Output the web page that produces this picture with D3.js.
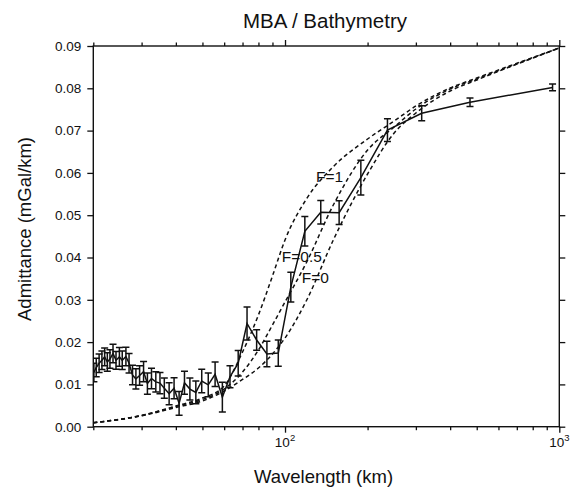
<!DOCTYPE html>
<html>
<head>
<meta charset="utf-8">
<script src="https://cdn.jsdelivr.net/npm/d3@7"></script>
<style>
  html, body { margin: 0; padding: 0; background: #fff; }
  svg { display: block; font-family: "Liberation Sans", Arial, Helvetica, sans-serif; }
</style>
</head>
<body>
<svg id="chart" width="581" height="487"></svg>
<script>
// ---- Data ----
const wavelength = [945, 472.5, 315, 236.3, 189, 157.5, 135, 118.1, 105, 94.5,
  85.9, 78.8, 72.7, 67.5, 63, 59.1, 55.6, 52.5, 49.7, 47.3,
  45, 43, 41.1, 39.4, 37.8, 36.3, 35, 33.8, 32.6, 31.5,
  30.5, 29.5, 28.6, 27.8, 27, 26.3, 25.5, 24.9, 24.2, 23.6,
  23, 22.5, 22, 21.5, 21, 20.5, 20.1];
const admittance = [0.0802, 0.0767, 0.0741, 0.0701, 0.0589, 0.0506, 0.0507, 0.0462, 0.0330, 0.0174,
  0.0172, 0.0205, 0.0244, 0.0150, 0.0118, 0.0070, 0.0124, 0.0099, 0.0108, 0.0081,
  0.0089, 0.0104, 0.0055, 0.0091, 0.0078, 0.0091, 0.0103, 0.0106, 0.0114, 0.0102,
  0.0130, 0.0121, 0.0113, 0.0122, 0.0150, 0.0166, 0.0157, 0.0165, 0.0157, 0.0173,
  0.0160, 0.0153, 0.0165, 0.0157, 0.0150, 0.0140, 0.0128];
const errorBar = [0.0008, 0.0010, 0.0018, 0.0027, 0.0041, 0.0028, 0.0028, 0.0035, 0.0035, 0.0031,
  0.0030, 0.0024, 0.0039, 0.0030, 0.0026, 0.0035, 0.0029, 0.0028, 0.0028, 0.0027,
  0.0026, 0.0027, 0.0028, 0.0025, 0.0026, 0.0024, 0.0025, 0.0024, 0.0024, 0.0025,
  0.0024, 0.0023, 0.0024, 0.0023, 0.0023, 0.0022, 0.0022, 0.0022, 0.0021, 0.0022,
  0.0022, 0.0022, 0.0021, 0.0022, 0.0022, 0.0022, 0.0022];

const modelWavelength = [20, 30, 40, 50, 60, 70, 80, 90, 100, 120, 150, 200, 250, 300, 400, 500, 1000];
const modelF1  = [0.00095, 0.00265, 0.00489, 0.00678, 0.00962, 0.01766, 0.02641, 0.03563, 0.04414,
  0.05395, 0.06147, 0.06801, 0.07227, 0.07582, 0.08007, 0.08243, 0.08953];
const modelF05 = [0.00095, 0.00265, 0.00478, 0.00643, 0.00891, 0.01293, 0.01813, 0.02404, 0.02948,
  0.03894, 0.05241, 0.06540, 0.07084, 0.07511, 0.07984, 0.08220, 0.08953];
const modelF0  = [0.00095, 0.00258, 0.00454, 0.00607, 0.00844, 0.01116, 0.01388, 0.01719, 0.02097,
  0.02995, 0.04414, 0.05974, 0.06943, 0.07416, 0.07936, 0.08196, 0.08953];

const yTicks = [0, 0.01, 0.02, 0.03, 0.04, 0.05, 0.06, 0.07, 0.08, 0.09];
const xMajorTicks = [100, 1000];
const xMajorExp = ["2", "3"];
const xMinorTicks = [20, 30, 40, 50, 60, 70, 80, 90, 200, 300, 400, 500, 600, 700, 800, 900];

// ---- Layout ----
const L = 93.3, R = 559.3, T = 46, B = 426.7;
const svg = d3.select("#chart");

const x = d3.scaleLog().domain([20, 1000]).range([L, R]);
const y = d3.scaleLinear().domain([0, 0.09]).range([B, T]);

const ink = "#111";
const FONT = "Liberation Sans, Arial, Helvetica, sans-serif";

svg.append("defs").append("clipPath").attr("id", "plotclip")
  .append("rect").attr("x", L).attr("y", T).attr("width", R - L).attr("height", B - T);

// ---- Axes ----
function styleAxis(g) {
  g.attr("font-family", FONT).attr("font-size", 13.5);
  g.select(".domain").remove();
  g.selectAll(".tick line").attr("stroke", ink).attr("stroke-width", 1.3);
  g.selectAll("text").attr("fill", ink);
}
svg.append("g").attr("transform", `translate(${L},0)`)
  .call(d3.axisLeft(y).tickValues(yTicks).tickFormat(d3.format(".2f")).tickSize(6).tickPadding(6))
  .call(styleAxis);
svg.append("g").attr("transform", `translate(${R},0)`)
  .call(d3.axisRight(y).tickValues(yTicks).tickFormat("").tickSize(6))
  .call(styleAxis);
[[B, d3.axisBottom], [T, d3.axisTop]].forEach(([pos, ax]) => {
  svg.append("g").attr("transform", `translate(0,${pos})`)
    .call(ax(x).tickValues(xMajorTicks).tickFormat("").tickSize(6))
    .call(styleAxis);
  svg.append("g").attr("transform", `translate(0,${pos})`)
    .call(ax(x).tickValues(xMinorTicks).tickFormat("").tickSize(3.5))
    .call(styleAxis);
});
xMajorTicks.forEach((v, i) => {
  const t = svg.append("text")
    .attr("x", x(v)).attr("y", 446.5)
    .attr("text-anchor", "middle")
    .attr("fill", ink)
    .attr("font-family", FONT)
    .style("font-size", "13.5px");
  t.append("tspan").text("10");
  t.append("tspan").attr("dy", -6).style("font-size", "9.5px").text(xMajorExp[i]);
});

svg.append("rect").attr("x", L).attr("y", T).attr("width", R - L).attr("height", B - T)
  .attr("fill", "none").attr("stroke", ink).attr("stroke-width", 1.4);

// ---- Model curves ----
const plot = svg.append("g").attr("clip-path", "url(#plotclip)");
const modelLine = d3.line()
  .x((d, i) => x(modelWavelength[i]))
  .y(d => y(d))
  .curve(d3.curveMonotoneX);
[modelF1, modelF05, modelF0].forEach(series => {
  plot.append("path").attr("d", modelLine(series))
    .attr("fill", "none").attr("stroke", ink)
    .attr("stroke-width", 1.5).attr("stroke-dasharray", "4,3");
});

// ---- Observed data ----
const obs = wavelength.map((w, i) => ({ w, v: admittance[i], e: errorBar[i] }));
plot.append("path")
  .attr("d", d3.line().x(d => x(d.w)).y(d => y(d.v))(obs))
  .attr("fill", "none").attr("stroke", ink).attr("stroke-width", 1.5);
const cap = 3.5;
const eb = plot.append("g").attr("stroke", ink).attr("stroke-width", 1.5);
obs.forEach(d => {
  const cx = x(d.w), y1 = y(d.v + d.e), y2 = y(d.v - d.e);
  eb.append("line").attr("x1", cx).attr("x2", cx).attr("y1", y1).attr("y2", y2);
  eb.append("line").attr("x1", cx - cap).attr("x2", cx + cap).attr("y1", y1).attr("y2", y1);
  eb.append("line").attr("x1", cx - cap).attr("x2", cx + cap).attr("y1", y2).attr("y2", y2);
});

// ---- Curve labels ----
const labels = [["F=1", 129.8, 0.0579], ["F=0.5", 97.3, 0.0389], ["F=0", 115.1, 0.0340]];
labels.forEach(([txt, w, v]) => {
  svg.append("text").attr("x", x(w)).attr("y", y(v))
    .attr("fill", ink).attr("font-family", FONT).style("font-size", "15.5px").text(txt);
});

// ---- Titles ----
svg.append("text").attr("x", 325).attr("y", 28.3).attr("text-anchor", "middle")
  .attr("fill", ink).attr("font-family", FONT).style("font-size", "20.5px").text("MBA / Bathymetry");
svg.append("text").attr("x", 323.5).attr("y", 483).attr("text-anchor", "middle")
  .attr("fill", ink).attr("font-family", FONT).style("font-size", "18.5px").text("Wavelength (km)");
svg.append("text").attr("transform", "translate(31,229) rotate(-90)").attr("text-anchor", "middle")
  .attr("fill", ink).attr("font-family", FONT).style("font-size", "18.5px").text("Admittance (mGal/km)");
</script>
</body>
</html>
